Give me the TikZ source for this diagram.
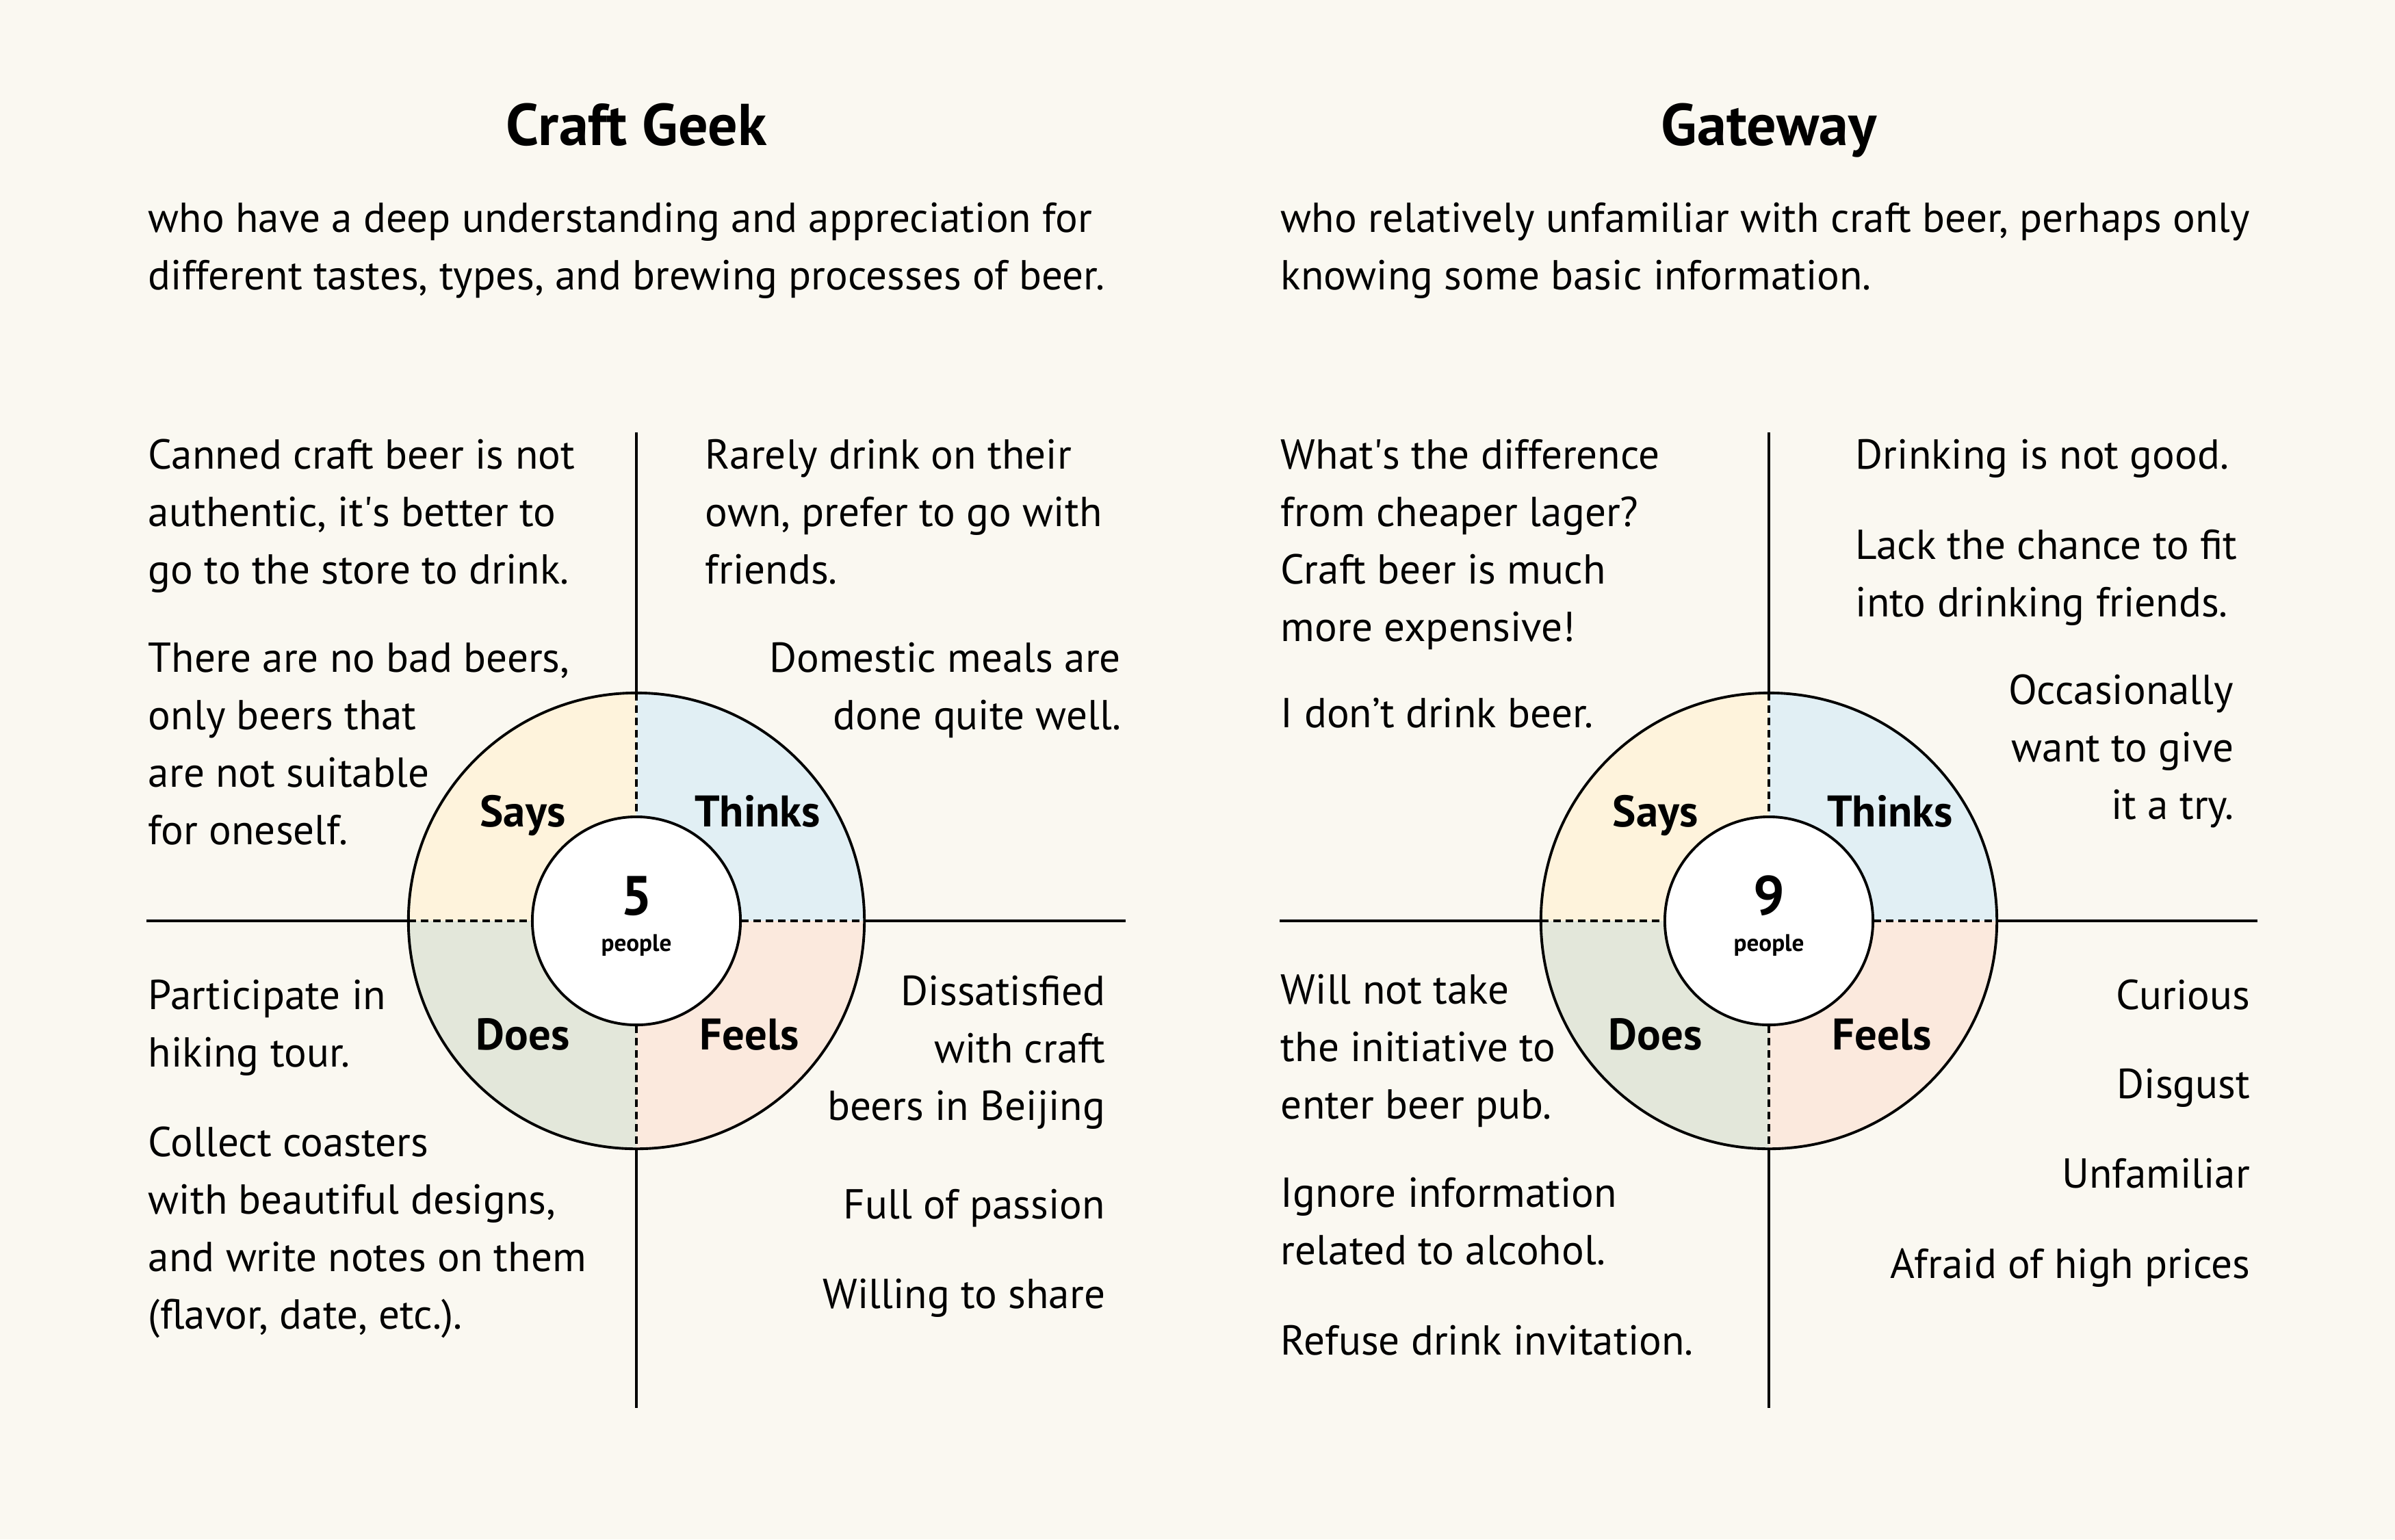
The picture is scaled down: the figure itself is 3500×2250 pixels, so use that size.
\documentclass[tikz,border=0pt]{standalone}
\usepackage{fontspec}
\setmainfont{PT Sans}
\definecolor{paper}{HTML}{FAF8F1}
\definecolor{saysfill}{HTML}{FEF3DC}
\definecolor{thinksfill}{HTML}{E1EFF4}
\definecolor{doesfill}{HTML}{E3E7DA}
\definecolor{feelsfill}{HTML}{FBE9DD}
\tikzset{
	title/.style={font=\fontsize{24.5}{28}\selectfont\bfseries, anchor=base},
	note/.style={font=\fontsize{17.4}{23.8}\selectfont, align=left, inner sep=0pt, anchor=base west},
	noteR/.style={note, align=right, anchor=base east},
	quad/.style={font=\fontsize{18.4}{21}\selectfont\bfseries, anchor=base},
	count/.style={font=\fontsize{23}{28}\selectfont\bfseries, anchor=base},
	ppl/.style={font=\fontsize{10}{12}\selectfont\bfseries, anchor=base},
	ring/.style={circle, minimum size=6.66cm, inner sep=0pt, outer sep=0pt},
	hub/.style={circle, draw, fill=white, minimum size=3.04cm, inner sep=0pt, outer sep=0pt},
	split/.style={dash pattern=on 0.11cm off 0.07cm},
}
\begin{document}
\begin{tikzpicture}[x=0.01cm, y=-0.01cm, line width=1.1pt]
      \fill[paper] (0,0) rectangle (3500,2250);

      % Craft Geek
      \node[title] (geek-title) at (930,212) {Craft Geek};
      \node[note] (geek-desc) at (215,423) {who have a deep understanding and appreciation for\\different tastes, types, and brewing processes of beer.};

      \node[ring] (geek-ring) at (930,1346) {};
      \fill[saysfill] (geek-ring.center) -- (geek-ring.west) arc[start angle=180, end angle=90, radius=3.33cm] -- cycle;
      \fill[thinksfill] (geek-ring.center) -- (geek-ring.north) arc[start angle=90, end angle=0, radius=3.33cm] -- cycle;
      \fill[feelsfill] (geek-ring.center) -- (geek-ring.east) arc[start angle=0, end angle=-90, radius=3.33cm] -- cycle;
      \fill[doesfill] (geek-ring.center) -- (geek-ring.south) arc[start angle=270, end angle=180, radius=3.33cm] -- cycle;
      \draw[split] (geek-ring.north) -- (geek-ring.south);
      \draw[split] (geek-ring.west) -- (geek-ring.east);
      \node[hub] (geek-hub) at (geek-ring.center) {};
      \draw (geek-ring.center) circle[radius=3.33cm];
      \node[count] (geek-num) at (930,1337) {5};
      \node[ppl] (geek-ppl) at (930,1390) {people};

      \coordinate (geek-n) at (930,632);
      \coordinate (geek-s) at (930,2058);
      \coordinate (geek-w) at (214,1346);
      \coordinate (geek-e) at (1645,1346);
      \draw (geek-n) -- (geek-ring.north);
      \draw (geek-ring.south) -- (geek-s);
      \draw (geek-w) -- (geek-ring.west);
      \draw (geek-ring.east) -- (geek-e);

      \node[quad] (geek-says) at (764,1208) {Says};
      \node[quad] (geek-thinks) at (1107,1208) {Thinks};
      \node[quad] (geek-does) at (764,1534) {Does};
      \node[quad] (geek-feels) at (1095,1534) {Feels};

      \node[note] (geek-says-a) at (215,853) {Canned craft beer is not\\authentic, it\textquotesingle s better to\\go to the store to drink.};
      \node[note] (geek-says-b) at (215,1234) {There are no bad beers,\\only beers that\\are not suitable\\for oneself.};
      \node[note] (geek-thinks-a) at (1029,853) {Rarely drink on their\\own, prefer to go with\\friends.};
      \node[noteR] (geek-thinks-b) at (1640,1066) {Domestic meals are\\done quite well.};
      \node[note] (geek-does-a) at (215,1559) {Participate in\\hiking tour.};
      \node[note] (geek-does-b) at (215,1942) {Collect coasters\\with beautiful designs,\\and write notes on them\\(flavor, date, etc.).};
      \node[noteR] (geek-feels-a) at (1617,1637) {Dissatisfied\\with craft\\beers in Beijing};
      \node[noteR] (geek-feels-b) at (1617,1781) {Full of passion};
      \node[noteR] (geek-feels-c) at (1617,1912) {Willing to share};

      % Gateway
      \node[title] (gate-title) at (2585,212) {Gateway};
      \node[note] (gate-desc) at (1870,423) {who relatively unfamiliar with craft beer, perhaps only\\knowing some basic information.};

      \node[ring] (gate-ring) at (2585,1346) {};
      \fill[saysfill] (gate-ring.center) -- (gate-ring.west) arc[start angle=180, end angle=90, radius=3.33cm] -- cycle;
      \fill[thinksfill] (gate-ring.center) -- (gate-ring.north) arc[start angle=90, end angle=0, radius=3.33cm] -- cycle;
      \fill[feelsfill] (gate-ring.center) -- (gate-ring.east) arc[start angle=0, end angle=-90, radius=3.33cm] -- cycle;
      \fill[doesfill] (gate-ring.center) -- (gate-ring.south) arc[start angle=270, end angle=180, radius=3.33cm] -- cycle;
      \draw[split] (gate-ring.north) -- (gate-ring.south);
      \draw[split] (gate-ring.west) -- (gate-ring.east);
      \node[hub] (gate-hub) at (gate-ring.center) {};
      \draw (gate-ring.center) circle[radius=3.33cm];
      \node[count] (gate-num) at (2585,1337) {9};
      \node[ppl] (gate-ppl) at (2585,1390) {people};

      \coordinate (gate-n) at (2585,632);
      \coordinate (gate-s) at (2585,2058);
      \coordinate (gate-w) at (1870,1346);
      \coordinate (gate-e) at (3299,1346);
      \draw (gate-n) -- (gate-ring.north);
      \draw (gate-ring.south) -- (gate-s);
      \draw (gate-w) -- (gate-ring.west);
      \draw (gate-ring.east) -- (gate-e);

      \node[quad] (gate-says) at (2419,1208) {Says};
      \node[quad] (gate-thinks) at (2762,1208) {Thinks};
      \node[quad] (gate-does) at (2419,1534) {Does};
      \node[quad] (gate-feels) at (2750,1534) {Feels};

      \node[note] (gate-says-a) at (1870,937) {What\textquotesingle s the difference\\from cheaper lager?\\Craft beer is much\\more expensive!};
      \node[note] (gate-says-b) at (1870,1063) {I don’t drink beer.};
      \node[note] (gate-thinks-a) at (2710,685) {Drinking is not good.};
      \node[note] (gate-thinks-b) at (2710,901) {Lack the chance to fit\\into drinking friends.};
      \node[noteR] (gate-thinks-c) at (3266,1197) {Occasionally\\want to give\\it a try.};
      \node[note] (gate-does-a) at (1870,1635) {Will not take\\the initiative to\\enter beer pub.};
      \node[note] (gate-does-b) at (1870,1848) {Ignore information\\related to alcohol.};
      \node[note] (gate-does-c) at (1870,1980) {Refuse drink invitation.};
      \node[noteR] (gate-feels-a) at (3290,1475) {Curious};
      \node[noteR] (gate-feels-b) at (3290,1605) {Disgust};
      \node[noteR] (gate-feels-c) at (3290,1736) {Unfamiliar};
      \node[noteR] (gate-feels-d) at (3290,1868) {Afraid of high prices};
\end{tikzpicture}
\end{document}
